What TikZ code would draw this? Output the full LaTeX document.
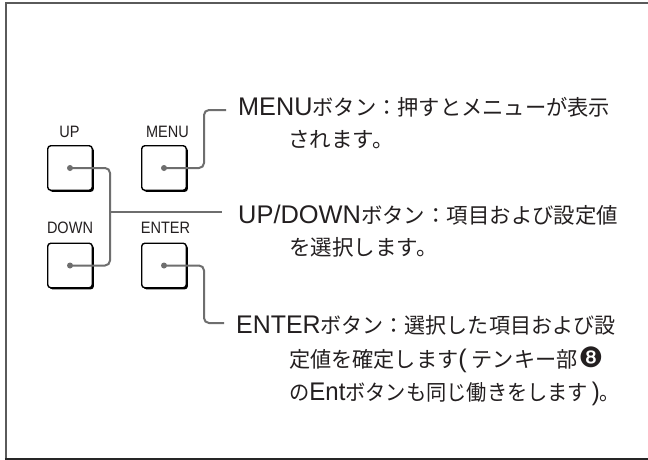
\documentclass[tikz,border=0pt]{standalone}
\usepackage{fontspec}
\usepackage{graphicx}
\setmainfont{Noto Sans CJK JP}
\newfontfamily\latinfont{Liberation Sans}
\newfontfamily\lblfont[FakeStretch=0.88]{Liberation Sans}
\newfontfamily\dingfont{DejaVu Sans}
\newcommand{\LT}[1]{{\latinfont\fontsize{25.5}{25.5}\selectfont #1}}
\newcommand{\fitw}[2]{\resizebox{#1}{\height}{#2}}
\usetikzlibrary{shadows}
\definecolor{conncol}{HTML}{6E6E6E}
\definecolor{ink}{HTML}{231F20}
\definecolor{framecol}{HTML}{5A5A5A}
\begin{document}
\begin{tikzpicture}[x=1pt,y=-1pt,
  btn/.style={draw=black,line width=1.4pt,fill=white,rounded corners=3pt,
    minimum width=44.5pt,minimum height=44.5pt,inner sep=0pt,outer sep=0pt,
    drop shadow={shadow xshift=1.6pt,shadow yshift=-1.6pt,fill=black,opacity=1}},
  lbl/.style={font=\lblfont\fontsize{16.5}{16.5}\selectfont,text=ink,inner sep=0pt,anchor=base},
  txt/.style={font=\fontsize{21.5}{21.5}\selectfont,text=ink,inner sep=0pt,anchor=base west},
  connline/.style={draw=conncol,line width=2pt,rounded corners=5pt},
  dotc/.style={fill=conncol}]
\useasboundingbox (0,0) rectangle (648,460);
\fill[white] (0,0) rectangle (648,460);
% frame
\draw[framecol,line width=2pt] (648,3.3) -- (5.8,3.3) -- (5.8,458.5);
\draw[black!85,line width=2pt] (4.8,458.5) -- (648,458.5);
% buttons
\node[btn] (up) at (70,168) {};
\node[btn] (menu) at (164,168) {};
\node[btn] (down) at (70,265.5) {};
\node[btn] (enter) at (164,265.5) {};
% labels
\node[lbl] (uplbl) at (69.5,137.3) {UP};
\node[lbl] (menulbl) at (167.5,137.3) {MENU};
\node[lbl] (downlbl) at (70,233.3) {DOWN};
\node[lbl] (enterlbl) at (165.5,233.3) {ENTER};
% texts
\node[txt] (m1) at (238,115) {\fitw{372pt}{\LT{MENU}ボタン：押すとメニューが表示}};
\node[txt] (m2) at (288,147) {されます。};
\node[txt] (u1) at (238,223) {\fitw{380pt}{\LT{UP/DOWN}ボタン：項目および設定値}};
\node[txt] (u2) at (289,255) {を選択します。};
\node[txt] (e1) at (236,333) {\fitw{379pt}{\LT{ENTER}ボタン：選択した項目および設}};
\node[txt] (e2) at (289,367) {\fitw{314pt}{定値を確定します\LT{(}\hspace{5pt}テンキー部\hspace{1pt}{\dingfont\fontsize{28}{28}\selectfont ❽}}};
\node[txt] (e3) at (289,400) {\fitw{331pt}{の\LT{Ent}ボタンも同じ働きをします\hspace{4pt}\LT{)}。}};
% connector points
\coordinate (bus) at (110,212);
\coordinate (udend) at (222,212);
\coordinate (mk) at (204,110);
\coordinate (menuend) at (226,110);
\coordinate (ek) at (204,323);
\coordinate (eend) at (224,323);
% connectors
\draw[connline] (up.center) -| (bus) |- (down.center);
\draw[connline] (bus) -- (udend);
\draw[connline] (menu.center) -| (mk) -- (menuend);
\draw[connline] (enter.center) -| (ek) -- (eend);
% dots
\fill[dotc] (up.center) circle (3);
\fill[dotc] (menu.center) circle (3);
\fill[dotc] (down.center) circle (3);
\fill[dotc] (enter.center) circle (3);
\end{tikzpicture}
\end{document}
